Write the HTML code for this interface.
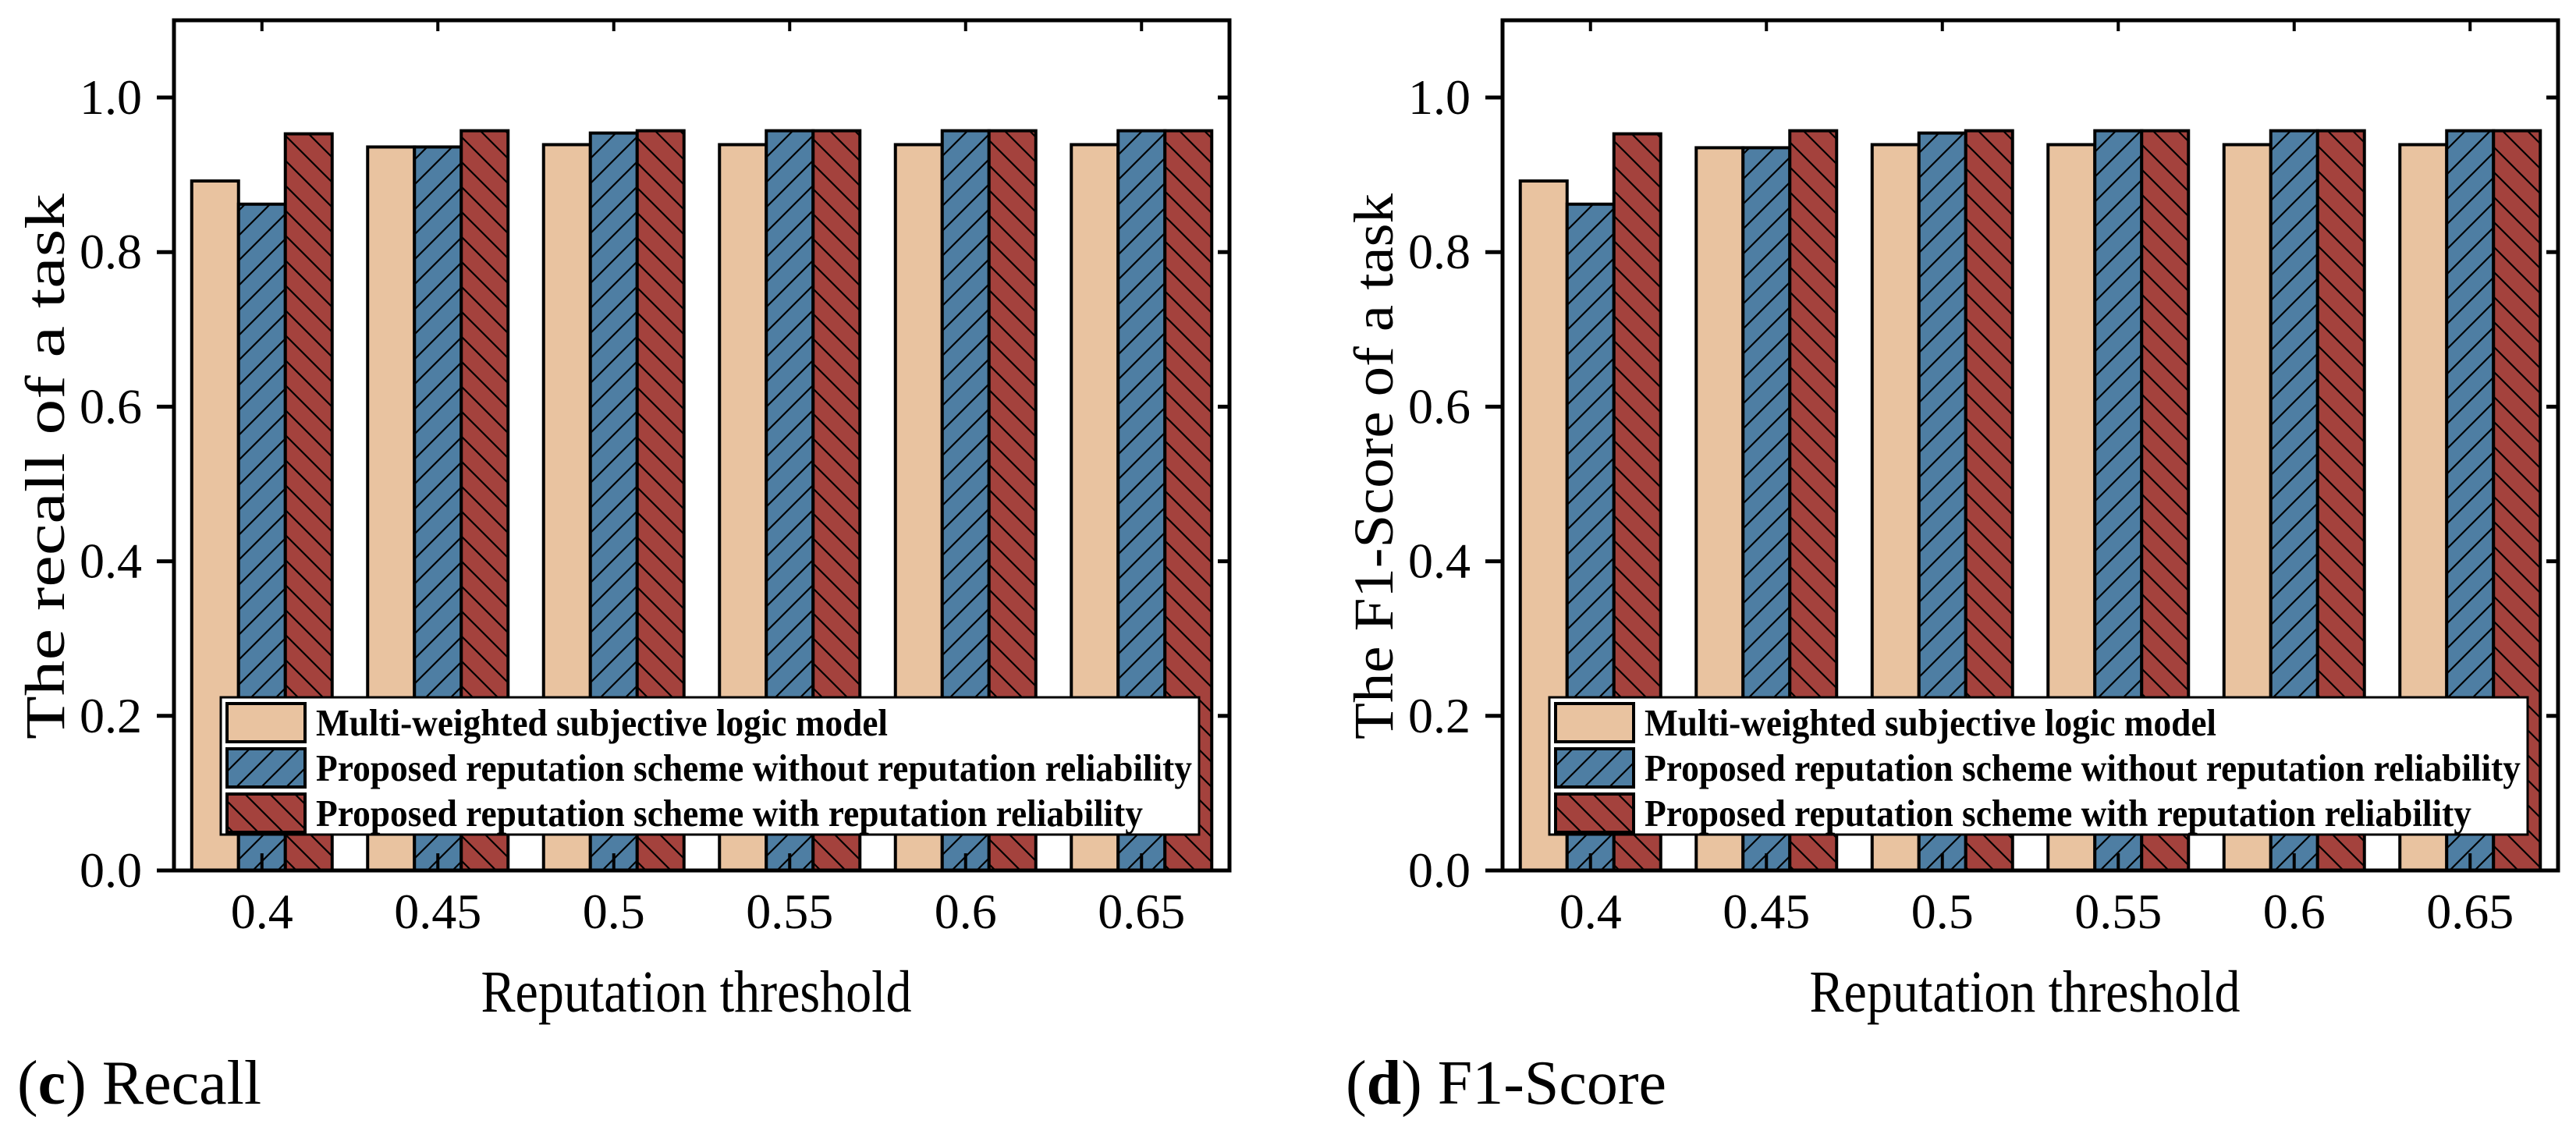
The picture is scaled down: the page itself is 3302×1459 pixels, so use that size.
<!DOCTYPE html>
<html><head><meta charset="utf-8"><style>
html,body{margin:0;padding:0;background:#fff;width:3302px;height:1459px;overflow:hidden}
svg{display:block}
text{font-family:"Liberation Serif",serif;fill:#000}
</style></head><body>
<svg id="fig" width="3302" height="1459" viewBox="0 0 3302 1459" xmlns="http://www.w3.org/2000/svg">
<defs>
<pattern id="hatchBlue" patternUnits="userSpaceOnUse" width="32" height="32">
<rect width="32" height="32" fill="#4e7ea3"/>
<path d="M-5,37 L37,-5 M-21,21 L21,-21 M11,53 L53,11" stroke="#000" stroke-width="2.2"/>
</pattern>
<pattern id="hatchRed" patternUnits="userSpaceOnUse" width="32" height="32">
<rect width="32" height="32" fill="#a4423d"/>
<path d="M-5,-5 L37,37 M-21,11 L21,53 M11,-21 L53,21" stroke="#000" stroke-width="2.2"/>
</pattern>
</defs>
</svg>
<script>
const categories = ["0.4","0.45","0.5","0.55","0.6","0.65"];
const recallMulti   = [0.892,0.936,0.939,0.939,0.939,0.939];
const recallNoRel   = [0.862,0.936,0.954,0.957,0.957,0.957];
const recallWithRel = [0.953,0.957,0.957,0.957,0.957,0.957];
const f1Multi   = [0.892,0.935,0.939,0.939,0.939,0.939];
const f1NoRel   = [0.862,0.935,0.954,0.957,0.957,0.957];
const f1WithRel = [0.953,0.957,0.957,0.957,0.957,0.957];
const yTicks = ["0.0","0.2","0.4","0.6","0.8","1.0"];
const legendLabels = ["Multi-weighted subjective logic model","Proposed reputation scheme without reputation reliability","Proposed reputation scheme with reputation reliability"];

const NS="http://www.w3.org/2000/svg";
const svg=document.getElementById('fig');
function mk(tag,attrs,parent){const e=document.createElementNS(NS,tag);for(const k in attrs)e.setAttribute(k,attrs[k]);(parent||svg).appendChild(e);return e;}

const fills=["#e9c3a0","url(#hatchBlue)","url(#hatchRed)"];
const seriesKeys=["multi","no-rel","with-rel"];

function panel(ox, series, yTitle, capLetter, capText, pname){
  const g=mk('g',{});
  
  
  const L=223+ox, R=1576+ox, T=26, B=1116;
  const ySc=v=>B-v*991;
  const step=(R-L)/categories.length;
  const xC=i=>L+(i+0.5)*step;
  const bw=60;
  series.forEach((arr,s)=>{
    arr.forEach((v,i)=>{
      const x=xC(i)-1.5*bw+s*bw;
      const r=mk('rect',{x:x,y:ySc(v),width:bw,height:B-ySc(v),fill:fills[s],stroke:'#000','stroke-width':4},g);
      
      
    });
  });
  const fr=mk('rect',{x:L,y:T,width:R-L,height:B-T,fill:'none',stroke:'#000','stroke-width':5},g);
  
  
  yTicks.forEach(t=>{
    const y=ySc(parseFloat(t));
    mk('line',{x1:L-22,y1:y,x2:L,y2:y,stroke:'#000','stroke-width':5},g);
    mk('line',{x1:R-15,y1:y,x2:R,y2:y,stroke:'#000','stroke-width':5},g);
    const tx=mk('text',{x:L-41,y:y+21,'text-anchor':'end','font-size':64},g);
    tx.textContent=t;
    
    
  });
  categories.forEach((c,i)=>{
    const x=xC(i);
    mk('line',{x1:x,y1:B,x2:x,y2:B-22,stroke:'#000','stroke-width':4},g);
    mk('line',{x1:x,y1:T,x2:x,y2:T+14,stroke:'#000','stroke-width':4},g);
    const tx=mk('text',{x:x,y:1190,'text-anchor':'middle','font-size':64},g);
    tx.textContent=c;
    
    
  });
  const xt=mk('text',{x:(L+R)/2-7,y:1297,'text-anchor':'middle','font-size':76,textLength:552,lengthAdjust:'spacingAndGlyphs'},g);
  xt.textContent="Reputation threshold";
  
  
  const yt=mk('text',{x:0,y:0,'text-anchor':'middle','font-size':72,'xml:space':'preserve',textLength:700,lengthAdjust:'spacingAndGlyphs',transform:`translate(${ox+82},598) rotate(-90)`},g);
  yt.textContent=yTitle;
  
  
  const lg=mk('g',{},g);
  
  
  mk('rect',{x:283+ox,y:894,width:1254,height:176,fill:'#fff',stroke:'#000','stroke-width':3},lg);
  const lens=[733,1123,1060];
  legendLabels.forEach((lab,s)=>{
    const cy=926+s*58;
    const sw=mk('rect',{x:291+ox,y:cy-24,width:100,height:49,fill:fills[s],stroke:'#000','stroke-width':4},lg);
    
    
    const t=mk('text',{x:405+ox,y:cy+17,'font-size':49,'font-weight':'bold',textLength:lens[s],lengthAdjust:'spacingAndGlyphs'},lg);
    t.textContent=lab;
    
    
  });
  const cap=mk('text',{x:22+ox,y:1415,'font-size':80},g);
  const b=mk('tspan',{},cap);b.textContent="(";
  const b2=mk('tspan',{'font-weight':'bold'},cap);b2.textContent=capLetter;
  const b3=mk('tspan',{},cap);b3.textContent=") "+capText;
  
  
}
panel(0,[recallMulti,recallNoRel,recallWithRel],"The recall of a task","c","Recall","recall-panel");
panel(1703,[f1Multi,f1NoRel,f1WithRel],"The  F1-Score of a task","d","F1-Score","f1-score-panel");
</script>
</body></html>
